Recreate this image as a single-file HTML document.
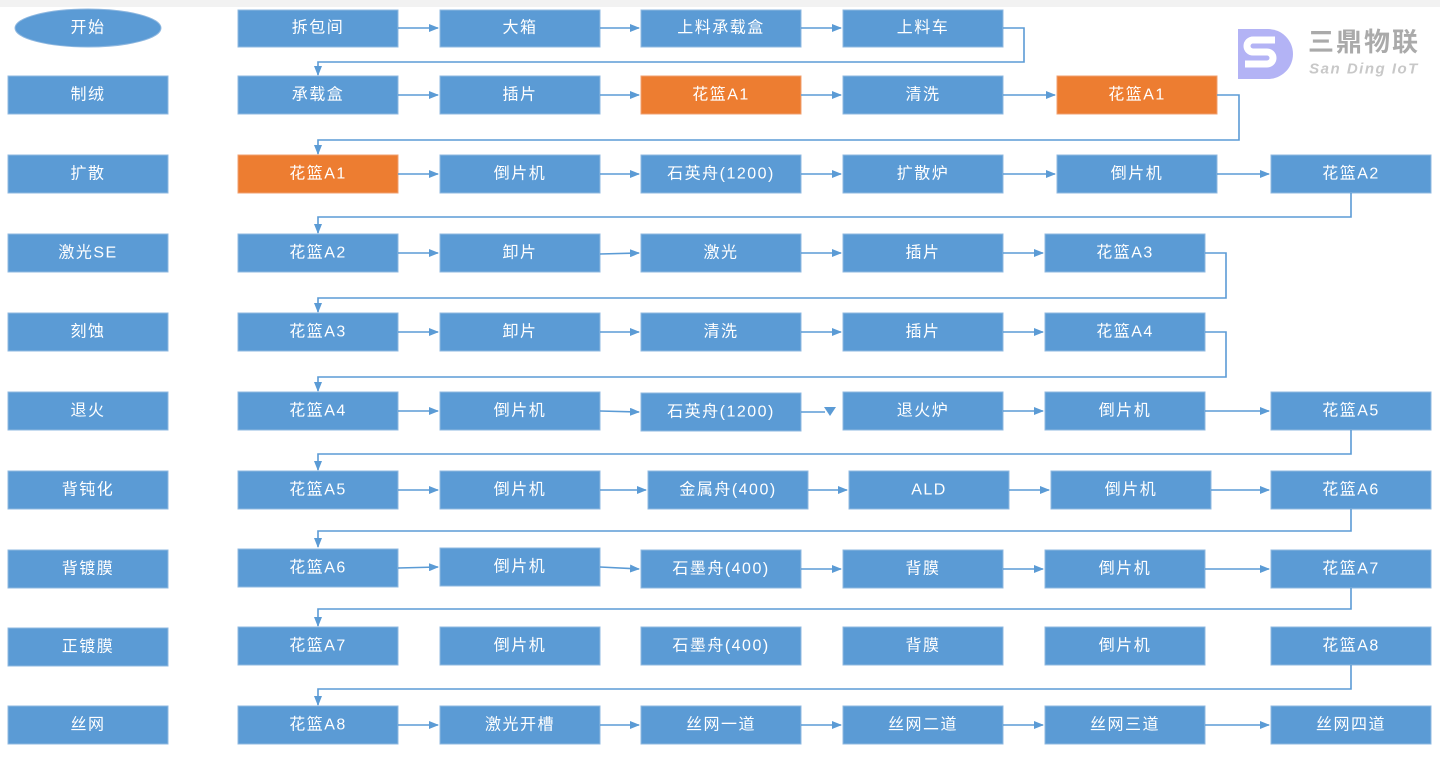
<!DOCTYPE html>
<html><head><meta charset="utf-8"><style>
html,body{margin:0;padding:0;background:#fff;}
svg text{font-family:"Liberation Sans","Noto Sans CJK SC",sans-serif;font-size:16px;letter-spacing:1.5px;fill:#fff;text-anchor:middle;dominant-baseline:central;}
.b{fill:#5b9bd5;stroke:#8fb8e0;stroke-width:1;}
.o{fill:#ed7d31;stroke:#f0a070;stroke-width:1;}
.l{stroke:#5b9bd5;stroke-width:1.6;fill:none;}
</style></head><body>
<svg width="1440" height="760" xmlns="http://www.w3.org/2000/svg">
<defs><marker id="a" markerWidth="10" markerHeight="8" refX="9" refY="4" orient="auto" markerUnits="userSpaceOnUse"><path d="M0,0 L10,4 L0,8 z" fill="#5b9bd5"/></marker></defs>
<rect x="0" y="0" width="1440" height="7" fill="#f2f2f2"/>
<!-- logo -->
<g>
<path d="M1238,29 h30 a19,19 0 0 1 0,50 h-30 z" fill="#b3b3f5"/>
<path d="M1275,40 h-22 a6,6 0 0 0 0,12 h14 a6,6 0 0 1 0,12 h-22" stroke="#fff" stroke-width="7" fill="none"/>
<text x="1364" y="42" style="fill:#aaa;font-size:26px;font-weight:bold;letter-spacing:2px">三鼎物联</text>
<text x="1364" y="69" style="fill:#c8c8c8;font-size:15px;font-style:italic;font-weight:bold;letter-spacing:1.5px">San Ding IoT</text>
</g>
<!-- left column -->
<ellipse cx="88" cy="28" rx="73" ry="19" fill="#5b9bd5" stroke="#8fb8e0"/><text x="88" y="28">开始</text>
<rect class="b" x="8" y="76" width="160" height="38"/><text x="88" y="95">制绒</text>
<rect class="b" x="8" y="155" width="160" height="38"/><text x="88" y="174">扩散</text>
<rect class="b" x="8" y="234" width="160" height="38"/><text x="88" y="253">激光SE</text>
<rect class="b" x="8" y="313" width="160" height="38"/><text x="88" y="332">刻蚀</text>
<rect class="b" x="8" y="392" width="160" height="38"/><text x="88" y="411">退火</text>
<rect class="b" x="8" y="471" width="160" height="38"/><text x="88" y="490">背钝化</text>
<rect class="b" x="8" y="550" width="160" height="38"/><text x="88" y="569">背镀膜</text>
<rect class="b" x="8" y="628" width="160" height="38"/><text x="88" y="647">正镀膜</text>
<rect class="b" x="8" y="706" width="160" height="38"/><text x="88" y="725">丝网</text>

<!-- row1 -->
<rect class="b" x="238" y="10" width="160" height="37"/><text x="318" y="28">拆包间</text>
<rect class="b" x="440" y="10" width="160" height="37"/><text x="520" y="28">大箱</text>
<rect class="b" x="641" y="10" width="160" height="37"/><text x="721" y="28">上料承载盒</text>
<rect class="b" x="843" y="10" width="160" height="37"/><text x="923" y="28">上料车</text>
<line class="l" x1="398" y1="28" x2="438" y2="28" marker-end="url(#a)"/>
<line class="l" x1="600" y1="28" x2="639" y2="28" marker-end="url(#a)"/>
<line class="l" x1="801" y1="28" x2="841" y2="28" marker-end="url(#a)"/>
<path class="l" d="M1003,28H1024V62H318V75" marker-end="url(#a)"/>

<!-- row2 -->
<rect class="b" x="238" y="76" width="160" height="38"/><text x="318" y="95">承载盒</text>
<rect class="b" x="440" y="76" width="160" height="38"/><text x="520" y="95">插片</text>
<rect class="o" x="641" y="76" width="160" height="38"/><text x="721" y="95">花篮A1</text>
<rect class="b" x="843" y="76" width="160" height="38"/><text x="923" y="95">清洗</text>
<rect class="o" x="1057" y="76" width="160" height="38"/><text x="1137" y="95">花篮A1</text>
<line class="l" x1="398" y1="95" x2="438" y2="95" marker-end="url(#a)"/>
<line class="l" x1="600" y1="95" x2="639" y2="95" marker-end="url(#a)"/>
<line class="l" x1="801" y1="95" x2="841" y2="95" marker-end="url(#a)"/>
<line class="l" x1="1003" y1="95" x2="1055" y2="95" marker-end="url(#a)"/>
<path class="l" d="M1217,95H1239V140H318V154" marker-end="url(#a)"/>

<!-- row3 -->
<rect class="o" x="238" y="155" width="160" height="38"/><text x="318" y="174">花篮A1</text>
<rect class="b" x="440" y="155" width="160" height="38"/><text x="520" y="174">倒片机</text>
<rect class="b" x="641" y="155" width="160" height="38"/><text x="721" y="174">石英舟(1200)</text>
<rect class="b" x="843" y="155" width="160" height="38"/><text x="923" y="174">扩散炉</text>
<rect class="b" x="1057" y="155" width="160" height="38"/><text x="1137" y="174">倒片机</text>
<rect class="b" x="1271" y="155" width="160" height="38"/><text x="1351" y="174">花篮A2</text>
<line class="l" x1="398" y1="174" x2="438" y2="174" marker-end="url(#a)"/>
<line class="l" x1="600" y1="174" x2="639" y2="174" marker-end="url(#a)"/>
<line class="l" x1="801" y1="174" x2="841" y2="174" marker-end="url(#a)"/>
<line class="l" x1="1003" y1="174" x2="1055" y2="174" marker-end="url(#a)"/>
<line class="l" x1="1217" y1="174" x2="1269" y2="174" marker-end="url(#a)"/>
<path class="l" d="M1351,193V217H318V233" marker-end="url(#a)"/>

<!-- row4 -->
<rect class="b" x="238" y="234" width="160" height="38"/><text x="318" y="253">花篮A2</text>
<rect class="b" x="440" y="234" width="160" height="38"/><text x="520" y="253">卸片</text>
<rect class="b" x="641" y="234" width="160" height="38"/><text x="721" y="253">激光</text>
<rect class="b" x="843" y="234" width="160" height="38"/><text x="923" y="253">插片</text>
<rect class="b" x="1045" y="234" width="160" height="38"/><text x="1125" y="253">花篮A3</text>
<line class="l" x1="398" y1="253" x2="438" y2="253" marker-end="url(#a)"/>
<line class="l" x1="600" y1="254" x2="639" y2="253" marker-end="url(#a)"/>
<line class="l" x1="801" y1="253" x2="841" y2="253" marker-end="url(#a)"/>
<line class="l" x1="1003" y1="253" x2="1043" y2="253" marker-end="url(#a)"/>
<path class="l" d="M1205,253H1226V298H318V312" marker-end="url(#a)"/>

<!-- row5 -->
<rect class="b" x="238" y="313" width="160" height="38"/><text x="318" y="332">花篮A3</text>
<rect class="b" x="440" y="313" width="160" height="38"/><text x="520" y="332">卸片</text>
<rect class="b" x="641" y="313" width="160" height="38"/><text x="721" y="332">清洗</text>
<rect class="b" x="843" y="313" width="160" height="38"/><text x="923" y="332">插片</text>
<rect class="b" x="1045" y="313" width="160" height="38"/><text x="1125" y="332">花篮A4</text>
<line class="l" x1="398" y1="332" x2="438" y2="332" marker-end="url(#a)"/>
<line class="l" x1="600" y1="332" x2="639" y2="332" marker-end="url(#a)"/>
<line class="l" x1="801" y1="332" x2="841" y2="332" marker-end="url(#a)"/>
<line class="l" x1="1003" y1="332" x2="1043" y2="332" marker-end="url(#a)"/>
<path class="l" d="M1205,332H1226V377H318V391" marker-end="url(#a)"/>

<!-- row6 -->
<rect class="b" x="238" y="392" width="160" height="38"/><text x="318" y="411">花篮A4</text>
<rect class="b" x="440" y="392" width="160" height="38"/><text x="520" y="411">倒片机</text>
<rect class="b" x="641" y="393" width="160" height="38"/><text x="721" y="412">石英舟(1200)</text>
<rect class="b" x="843" y="392" width="160" height="38"/><text x="923" y="411">退火炉</text>
<rect class="b" x="1045" y="392" width="160" height="38"/><text x="1125" y="411">倒片机</text>
<rect class="b" x="1271" y="392" width="160" height="38"/><text x="1351" y="411">花篮A5</text>
<line class="l" x1="398" y1="411" x2="438" y2="411" marker-end="url(#a)"/>
<line class="l" x1="600" y1="411" x2="639" y2="412" marker-end="url(#a)"/>
<path class="l" d="M801,412H825"/><path d="M824,407L836,407L830,416z" fill="#5b9bd5"/>
<line class="l" x1="1003" y1="411" x2="1043" y2="411" marker-end="url(#a)"/>
<line class="l" x1="1205" y1="411" x2="1269" y2="411" marker-end="url(#a)"/>
<path class="l" d="M1351,430V454H318V470" marker-end="url(#a)"/>

<!-- row7 -->
<rect class="b" x="238" y="471" width="160" height="38"/><text x="318" y="490">花篮A5</text>
<rect class="b" x="440" y="471" width="160" height="38"/><text x="520" y="490">倒片机</text>
<rect class="b" x="648" y="471" width="160" height="38"/><text x="728" y="490">金属舟(400)</text>
<rect class="b" x="849" y="471" width="160" height="38"/><text x="929" y="490">ALD</text>
<rect class="b" x="1051" y="471" width="160" height="38"/><text x="1131" y="490">倒片机</text>
<rect class="b" x="1271" y="471" width="160" height="38"/><text x="1351" y="490">花篮A6</text>
<line class="l" x1="398" y1="490" x2="438" y2="490" marker-end="url(#a)"/>
<line class="l" x1="600" y1="490" x2="646" y2="490" marker-end="url(#a)"/>
<line class="l" x1="808" y1="490" x2="847" y2="490" marker-end="url(#a)"/>
<line class="l" x1="1009" y1="490" x2="1049" y2="490" marker-end="url(#a)"/>
<line class="l" x1="1211" y1="490" x2="1269" y2="490" marker-end="url(#a)"/>
<path class="l" d="M1351,509V531H318V547" marker-end="url(#a)"/>

<!-- row8 -->
<rect class="b" x="238" y="549" width="160" height="38"/><text x="318" y="568">花篮A6</text>
<rect class="b" x="440" y="548" width="160" height="38"/><text x="520" y="567">倒片机</text>
<rect class="b" x="641" y="550" width="160" height="38"/><text x="721" y="569">石墨舟(400)</text>
<rect class="b" x="843" y="550" width="160" height="38"/><text x="923" y="569">背膜</text>
<rect class="b" x="1045" y="550" width="160" height="38"/><text x="1125" y="569">倒片机</text>
<rect class="b" x="1271" y="550" width="160" height="38"/><text x="1351" y="569">花篮A7</text>
<line class="l" x1="398" y1="568" x2="438" y2="567" marker-end="url(#a)"/>
<line class="l" x1="600" y1="567" x2="639" y2="569" marker-end="url(#a)"/>
<line class="l" x1="801" y1="569" x2="841" y2="569" marker-end="url(#a)"/>
<line class="l" x1="1003" y1="569" x2="1043" y2="569" marker-end="url(#a)"/>
<line class="l" x1="1205" y1="569" x2="1269" y2="569" marker-end="url(#a)"/>
<path class="l" d="M1351,588V609H318V626" marker-end="url(#a)"/>

<!-- row9 -->
<rect class="b" x="238" y="627" width="160" height="38"/><text x="318" y="646">花篮A7</text>
<rect class="b" x="440" y="627" width="160" height="38"/><text x="520" y="646">倒片机</text>
<rect class="b" x="641" y="627" width="160" height="38"/><text x="721" y="646">石墨舟(400)</text>
<rect class="b" x="843" y="627" width="160" height="38"/><text x="923" y="646">背膜</text>
<rect class="b" x="1045" y="627" width="160" height="38"/><text x="1125" y="646">倒片机</text>
<rect class="b" x="1271" y="627" width="160" height="38"/><text x="1351" y="646">花篮A8</text>
<path class="l" d="M1351,665V689H318V705" marker-end="url(#a)"/>

<!-- row10 -->
<rect class="b" x="238" y="706" width="160" height="38"/><text x="318" y="725">花篮A8</text>
<rect class="b" x="440" y="706" width="160" height="38"/><text x="520" y="725">激光开槽</text>
<rect class="b" x="641" y="706" width="160" height="38"/><text x="721" y="725">丝网一道</text>
<rect class="b" x="843" y="706" width="160" height="38"/><text x="923" y="725">丝网二道</text>
<rect class="b" x="1045" y="706" width="160" height="38"/><text x="1125" y="725">丝网三道</text>
<rect class="b" x="1271" y="706" width="160" height="38"/><text x="1351" y="725">丝网四道</text>
<line class="l" x1="398" y1="725" x2="438" y2="725" marker-end="url(#a)"/>
<line class="l" x1="600" y1="725" x2="639" y2="725" marker-end="url(#a)"/>
<line class="l" x1="801" y1="725" x2="841" y2="725" marker-end="url(#a)"/>
<line class="l" x1="1003" y1="725" x2="1043" y2="725" marker-end="url(#a)"/>
<line class="l" x1="1205" y1="725" x2="1269" y2="725" marker-end="url(#a)"/>
</svg>
</body></html>
